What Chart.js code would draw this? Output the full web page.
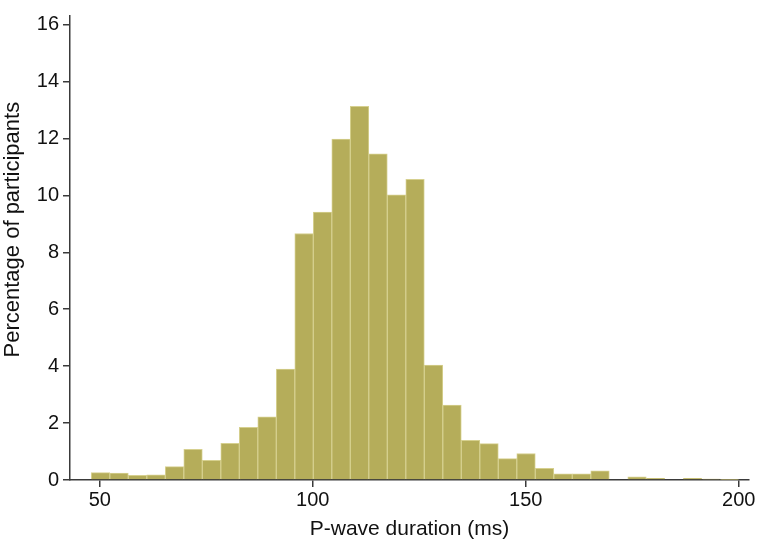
<html>
<head>
<script src="https://cdn.jsdelivr.net/npm/chart.js@4.4.0/dist/chart.umd.min.js"></script>
<style>
body { margin: 0; background: #fff; }
#wrap { width: 757px; height: 542px; }
</style>
</head>
<body>
<div id="wrap"><canvas id="myChart" width="757" height="542"></canvas></div>
<script>
// histogram: 35 bins from 48 to 200 ms
var binStart = 48;
var binWidth = 152 / 35;
var percents = [
  0.26, 0.24, 0.16, 0.18, 0.47, 1.08, 0.69, 1.29, 1.85, 2.22,
  3.90, 8.66, 9.41, 11.98, 13.13, 11.46, 10.02, 10.56, 4.04, 2.63,
  1.39, 1.28, 0.75, 0.93, 0.41, 0.22, 0.22, 0.32, 0, 0.11,
  0.06, 0, 0.06, 0.03, 0.02
];
var xTicks = [50, 100, 150, 200];
var yTicks = [0, 2, 4, 6, 8, 10, 12, 14, 16];

var points = percents.map((v, i) => ({x: binStart + binWidth * (i + 0.5), y: v}));

var tickFont = {family: "'Liberation Sans', Arial, sans-serif", size: 20};
var titleFont = {family: "'Liberation Sans', Arial, sans-serif", size: 21};
var yTitleFont = {family: "'Liberation Sans', Arial, sans-serif", size: 22};
var axisColor = '#3a3a3a';

var ctx = document.getElementById('myChart').getContext('2d');
var myChart = new Chart(ctx, {
  type: 'bar',
  data: {
    datasets: [{
      data: points,
      backgroundColor: '#b5ad5a',
      borderColor: '#d6d08f',
      borderWidth: 1,
      barPercentage: 1,
      categoryPercentage: 1,
      grouped: false
    }]
  },
  options: {
    responsive: false,
    animation: false,
    layout: {padding: {top: 8, right: 8, left: 0, bottom: 0}},
    plugins: {legend: {display: false}, tooltip: {enabled: false}},
    scales: {
      x: {
        type: 'linear',
        offset: false,
        min: 43, max: 202.4,
        afterBuildTicks: s => { s.ticks = xTicks.map(v => ({value: v})); },
        afterFit: s => { s.height = 62; },
        border: {display: true, color: axisColor, width: 1.5},
        grid: {display: true, offset: false, drawOnChartArea: false, drawTicks: true, tickLength: 7, color: axisColor, lineWidth: 1.5},
        ticks: {color: '#111', font: tickFont, padding: 1, maxRotation: 0},
        title: {display: true, text: 'P-wave duration (ms)', color: '#111', font: titleFont, padding: {top: -5, bottom: 0}}
      },
      y: {
        min: 0, max: 16.3,
        afterBuildTicks: s => { s.ticks = yTicks.map(v => ({value: v})); },
        afterFit: s => { s.width = 70; },
        border: {display: true, color: axisColor, width: 1.5},
        grid: {display: true, drawOnChartArea: false, drawTicks: true, tickLength: 7, color: axisColor, lineWidth: 1.5},
        ticks: {color: '#111', font: tickFont, padding: 4},
        // leading spaces nudge the centred title up a little, like the original
        title: {display: true, text: '      Percentage of participants', color: '#111', font: yTitleFont, padding: {top: 0, bottom: 0}}
      }
    }
  }
});
</script>
</body>
</html>
